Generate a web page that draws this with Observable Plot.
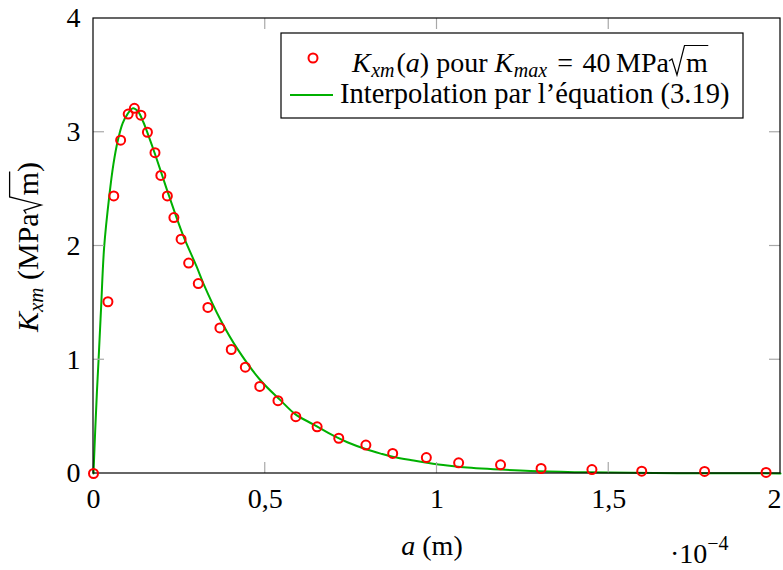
<!DOCTYPE html>
<html><head><meta charset="utf-8">
<script src="https://cdn.jsdelivr.net/npm/d3@7"></script>
<script src="https://cdn.jsdelivr.net/npm/@observablehq/plot@0.6"></script>
<style>body{margin:0;background:#fff} svg{overflow:visible}</style>
</head><body><div id="chart"></div>
<script>
// Data points K_xm(a), a in units of 1e-4 m
const pointA = [0, 0.042, 0.059, 0.079, 0.101, 0.119, 0.138, 0.157, 0.179, 0.196, 0.215, 0.234, 0.255, 0.277, 0.305, 0.333, 0.368, 0.401, 0.442, 0.484, 0.537, 0.589, 0.651, 0.714, 0.793, 0.871, 0.969, 1.063, 1.185, 1.303, 1.451, 1.596, 1.779, 1.958];
const pointK = [0, 1.51, 2.44, 2.93, 3.16, 3.21, 3.15, 3.00, 2.82, 2.62, 2.44, 2.25, 2.06, 1.85, 1.67, 1.46, 1.28, 1.09, 0.935, 0.765, 0.64, 0.50, 0.41, 0.31, 0.25, 0.176, 0.14, 0.094, 0.076, 0.044, 0.035, 0.02, 0.018, 0.009];
// Interpolation curve (eq. 3.19)
const curveA = [0, 0.005, 0.01, 0.0146, 0.022, 0.031, 0.046, 0.058, 0.071, 0.085, 0.099, 0.115, 0.13, 0.145, 0.16, 0.18, 0.2, 0.22, 0.26, 0.3, 0.32, 0.37, 0.418, 0.486, 0.544, 0.588, 0.641, 0.7, 0.739, 0.792, 0.836, 0.874, 0.932, 0.971, 1.03, 1.068, 1.185, 1.272, 1.4, 1.5, 1.7, 2.0];
const curveK = [0, 0.38, 0.72, 0.99, 1.45, 1.99, 2.44, 2.72, 2.93, 3.08, 3.16, 3.21, 3.18, 3.09, 2.97, 2.8, 2.62, 2.44, 2.1, 1.82, 1.67, 1.35, 1.1, 0.82, 0.645, 0.52, 0.43, 0.33, 0.275, 0.215, 0.175, 0.145, 0.114, 0.095, 0.07, 0.058, 0.035, 0.022, 0.012, 0.008, 0.003, 0.001];
const xTicks = [0, 0.5, 1, 1.5, 2];
const yTicks = [0, 1, 2, 3, 4];
const legendLabels = ["pour", "Interpolation par l’équation (3.19)"];

const points = pointA.map((a, i) => ({a, k: pointK[i]}));
const curve = curveA.map((a, i) => ({a, k: curveK[i]}));

const FONT = "'Liberation Serif', 'DejaVu Serif', serif";
const FS = 28;
const fmt = d => String(d).replace(".", ",");

const plot = Plot.plot({
  width: 783, height: 570,
  marginLeft: 93, marginRight: 3, marginTop: 18, marginBottom: 97,
  style: {fontFamily: FONT, fontSize: FS + "px", color: "black", background: "white", overflow: "visible"},
  x: {domain: [0, 2], label: null},
  y: {domain: [0, 4], label: null},
  marks: [
    Plot.axisX(xTicks.slice(0, -1), {tickFormat: fmt, tickSize: 0, tickPadding: 15, label: null}),
    Plot.axisX(xTicks.slice(-1), {tickFormat: fmt, tickSize: 0, tickPadding: 15, dx: -6, label: null}),
    Plot.axisY(yTicks, {tickFormat: d => String(d), tickSize: 0, tickPadding: 13, label: null}),
    Plot.line(curve, {x: "a", y: "k", stroke: "#00b000", strokeWidth: 2, curve: "catmull-rom"}),
    Plot.dot(points, {x: "a", y: "k", r: 4.5, stroke: "red", strokeWidth: 2, fill: "none"})
  ]
});
document.getElementById("chart").appendChild(plot);

const svg = d3.select(plot);
const sx = plot.scale("x"), sy = plot.scale("y");
const x0 = sx.apply(0), x1 = sx.apply(2), y0 = sy.apply(0), y1 = sy.apply(4);
const TL = 11;
const tg = svg.append("g").attr("stroke", "#a8a8a8").attr("stroke-width", 1.2);
xTicks.slice(1, -1).forEach(v => {
  const px = sx.apply(v);
  tg.append("line").attr("x1", px).attr("x2", px).attr("y1", y0).attr("y2", y0 - TL);
  tg.append("line").attr("x1", px).attr("x2", px).attr("y1", y1).attr("y2", y1 + TL);
});
yTicks.slice(1, -1).forEach(v => {
  const py = sy.apply(v);
  tg.append("line").attr("y1", py).attr("y2", py).attr("x1", x0).attr("x2", x0 + TL);
  tg.append("line").attr("y1", py).attr("y2", py).attr("x1", x1).attr("x2", x1 - TL);
});
svg.append("rect").attr("x", x0).attr("y", y1).attr("width", x1 - x0).attr("height", y0 - y1)
  .attr("fill", "none").attr("stroke", "black").attr("stroke-width", 1.2);
// keep dots above the frame
svg.node().appendChild(svg.select("g[aria-label='dot']").node());

function mathText(parent, x, y, parts, fs, anchor) {
  const t = parent.append("text").attr("x", x).attr("y", y).attr("font-size", fs)
    .attr("font-family", FONT).attr("fill", "black").attr("text-anchor", anchor || "start");
  parts.forEach(p => {
    const ts = t.append("tspan").text(p.t);
    if (p.i) ts.attr("font-style", "italic");
    if (p.s) ts.attr("font-size", p.s);
    if (p.dy) ts.attr("dy", p.dy);
    if (p.dx) ts.attr("dx", p.dx);
  });
  return t;
}
function radical(parent, t, fs) {
  const node = t.node();
  const idx = node.textContent.lastIndexOf("m");
  const e = node.getExtentOfChar(idx);
  const b = +t.attr("y");
  const s = fs / 28;
  const xs = e.x - 17 * s;
  parent.append("path")
    .attr("d", `M${xs},${b - 11 * s} L${xs + 3 * s},${b - 13 * s} L${xs + 8 * s},${b + 3 * s} L${xs + 15.5 * s},${b - 26.5 * s} L${e.x + e.width + 0.5},${b - 26.5 * s}`)
    .attr("fill", "none").attr("stroke", "black").attr("stroke-width", 1.2 * s).attr("stroke-linejoin", "miter");
}

// Legend
const lg = svg.append("g");
lg.append("rect").attr("x", 281).attr("y", 33).attr("width", 462).attr("height", 85)
  .attr("fill", "white").attr("stroke", "black").attr("stroke-width", 1.2);
lg.append("circle").attr("cx", 313).attr("cy", 58).attr("r", 4.5).attr("fill", "none").attr("stroke", "red").attr("stroke-width", 2);
lg.append("line").attr("x1", 290).attr("x2", 333).attr("y1", 95).attr("y2", 95).attr("stroke", "#00b000").attr("stroke-width", 2);
const l1 = mathText(lg, 352, 72, [
  {t: "K", i: 1}, {t: "xm", i: 1, s: 20, dy: 5, dx: 0.5}, {t: "(", dy: -5, dx: 2}, {t: "a", i: 1}, {t: ") " + legendLabels[0] + " "},
  {t: "K", i: 1}, {t: "max", i: 1, s: 20, dy: 5, dx: 0.5}, {t: "\u2004=\u200440\u2009MPa", dy: -5, dx: 1}, {t: "m", dx: 17}
], FS);
radical(lg, l1, FS);
mathText(lg, 340, 103, [{t: legendLabels[1]}], 28.5);

// X axis label
mathText(svg, 432, 555, [{t: "a", i: 1}, {t: " (m)"}], FS, "middle");
mathText(svg, 670, 563, [{t: "·10"}, {t: "−4", s: 20, dy: -13}], FS);

// Y axis label
const YFS = 30;
const yg = svg.append("g").attr("transform", "translate(38,247) rotate(-90)");
const yl = mathText(yg, 0, 0, [
  {t: "K", i: 1}, {t: "xm", i: 1, s: 21, dy: 5}, {t: " (MPa", dy: -5}, {t: "m", dx: 18}, {t: ")"}
], YFS, "middle");
radical(yg, yl, YFS);
</script>
</body></html>
